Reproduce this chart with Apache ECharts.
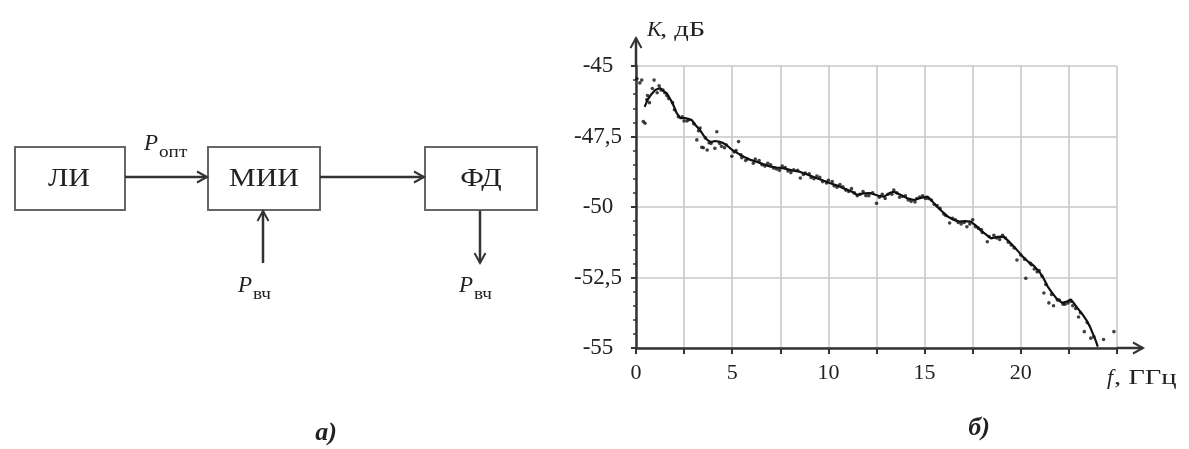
<!DOCTYPE html>
<html>
<head>
<meta charset="utf-8">
<title>Схема и АЧХ</title>
<style>
  html, body { margin: 0; padding: 0; background: #fff; }
  #main { width: 1189px; height: 449px; }
</style>
<script src="https://cdn.jsdelivr.net/npm/echarts@6/dist/echarts.min.js"></script>
</head>
<body>
<div id="main"></div>
<script>
// частота, ГГц и коэффициент передачи, дБ (сплошная линия)
var lineF = [0.45, 0.6, 0.8, 1.0, 1.25, 1.45, 1.6, 1.8, 1.95, 2.1, 2.3, 2.6, 2.9, 3.1, 3.3, 3.5, 3.7, 3.9, 4.1, 4.3,
  4.5, 4.7, 5.0, 5.3, 5.6, 5.95, 6.3, 6.6, 7.0, 7.3, 7.7, 8.1, 8.5, 8.9, 9.4, 9.8, 10.1, 10.5, 10.8, 11.2,
  11.5, 11.8, 12.2, 12.6, 12.9, 13.2, 13.4, 13.75, 14.1, 14.45, 14.8, 15.15, 15.4, 15.65, 15.9, 16.2, 16.5, 16.8, 17.1, 17.4,
  17.65, 17.9, 18.2, 18.45, 18.8, 19.1, 19.35, 19.65, 19.9, 20.1, 20.4, 20.7, 21.0, 21.2, 21.4, 21.6, 21.85, 22.15, 22.4, 22.6,
  22.8, 22.95, 23.2, 23.4, 23.6, 23.75, 23.9, 24.0];
var lineK = [-46.45, -46.2, -46.0, -45.85, -45.78, -45.9, -45.97, -46.2, -46.4, -46.65, -46.85, -46.85, -46.92, -47.1, -47.25, -47.45, -47.62, -47.7, -47.66, -47.68,
  -47.72, -47.8, -47.98, -48.1, -48.22, -48.33, -48.4, -48.48, -48.57, -48.6, -48.63, -48.7, -48.75, -48.85, -48.98, -49.08, -49.16, -49.25, -49.34, -49.45,
  -49.57, -49.52, -49.51, -49.6, -49.63, -49.5, -49.46, -49.57, -49.69, -49.75, -49.68, -49.63, -49.8, -49.99, -50.15, -50.34, -50.45, -50.52, -50.5, -50.52,
  -50.65, -50.82, -50.98, -51.11, -51.06, -51.05, -51.2, -51.41, -51.6, -51.76, -51.95, -52.1, -52.33, -52.55, -52.82, -53.02, -53.24, -53.4, -53.35, -53.28,
  -53.45, -53.59, -53.8, -54.0, -54.25, -54.5, -54.75, -54.95];

// точки измерений
var dotF = [0.05, 0.2, 0.3, 0.38, 0.47, 0.56, 0.7, 0.94, 1.1, 1.3, 1.5, 1.7, 1.9, 2.2, 2.5, 2.75, 3.0, 3.16, 3.33, 3.42,
  3.5, 3.7, 3.9, 4.1, 4.2, 4.45, 4.7, 4.98, 5.2, 5.33, 5.5, 5.8, 6.1, 6.4, 6.7, 7.0, 7.3, 7.6, 7.9, 8.2,
  8.54, 8.8, 9.1, 9.4, 9.7, 10.0, 10.3, 10.6, 10.9, 11.2, 11.5, 11.8, 12.1, 12.5, 12.8, 13.1, 13.4, 13.7, 14.0, 14.3,
  14.6, 14.9, 15.2, 15.5, 15.8, 16.0, 16.3, 16.6, 16.9, 17.2, 17.5, 17.8, 18.0, 18.26, 18.6, 18.9, 19.2, 19.5, 19.8, 20.0,
  20.26, 20.5, 20.7, 20.95, 21.2, 21.46, 21.7, 22.0, 22.3, 22.6, 22.85, 23.0, 23.3, 23.64, 24.3, 24.84,
  0.6, 0.85, 1.2, 1.4, 1.6, 2.0, 2.4, 2.65, 3.25, 3.6, 3.8, 4.35, 4.6, 5.1, 5.45, 5.7, 6.2, 6.55, 6.85, 7.15,
  7.45, 7.75, 8.05, 8.4, 8.7, 9.0, 9.25, 9.55, 9.9, 10.2, 10.45, 10.75, 11.05, 11.35, 11.65, 11.95, 12.3, 12.65, 12.95, 13.3,
  13.55, 13.85, 14.15, 14.5, 14.75, 15.05, 15.35, 15.65, 16.1, 16.45, 16.75, 17.05, 17.35, 17.65, 17.95, 18.35, 18.75, 19.05, 19.35, 19.65,
  20.2, 20.55, 20.85, 21.1, 21.3, 21.6, 21.9, 22.2, 22.45, 22.7, 23.1, 23.45, 23.8];
var dotK = [-45.45, -45.6, -45.5, -46.97, -47.03, -46.2, -46.3, -45.5, -45.95, -45.85, -45.95, -46.15, -46.3, -46.8, -46.95, -46.9, -47.05, -47.62, -47.2, -47.88,
  -47.9, -47.98, -47.75, -47.92, -47.33, -47.85, -47.8, -48.2, -48.0, -47.68, -48.25, -48.3, -48.45, -48.35, -48.55, -48.5, -48.65, -48.55, -48.72, -48.68,
  -48.97, -48.8, -48.95, -48.9, -49.1, -49.05, -49.25, -49.2, -49.4, -49.35, -49.6, -49.45, -49.6, -49.87, -49.55, -49.55, -49.4, -49.65, -49.6, -49.8,
  -49.7, -49.6, -49.7, -49.9, -50.05, -50.25, -50.57, -50.45, -50.6, -50.7, -50.45, -50.75, -50.9, -51.23, -51.0, -51.15, -51.1, -51.35, -51.88, -51.7,
  -52.53, -52.0, -52.2, -52.25, -53.05, -53.4, -53.5, -53.3, -53.45, -53.35, -53.6, -53.9, -54.42, -54.65, -54.7, -54.42,
  -46.05, -45.8, -45.7, -45.85, -46.05, -46.55, -46.8, -46.95, -47.3, -47.55, -47.72, -47.75, -47.9, -48.05, -48.15, -48.35, -48.3, -48.5, -48.45, -48.62,
  -48.7, -48.6, -48.78, -48.7, -48.85, -48.82, -49.0, -48.95, -49.15, -49.1, -49.3, -49.28, -49.45, -49.5, -49.55, -49.6, -49.5, -49.65, -49.7, -49.55,
  -49.5, -49.62, -49.75, -49.82, -49.65, -49.7, -49.75, -49.95, -50.3, -50.4, -50.55, -50.55, -50.6, -50.7, -50.8, -51.05, -51.1, -51.0, -51.25, -51.45,
  -51.85, -52.05, -52.3, -52.45, -52.75, -53.1, -53.3, -53.45, -53.4, -53.5, -53.75, -54.1, -54.6];

// деления осей
var xMin = 0, xMax = 25, xStep = 2.5;
var yMin = -55, yMax = -45, yStep = 2.5;

var lineData = lineF.map(function (f, i) { return [f, lineK[i]]; });
var dotData = dotF.map(function (f, i) { return [f, dotK[i]]; });

var serif = '"Liberation Serif", "Times New Roman", serif';
var ink = '#222';

var chart = echarts.init(document.getElementById('main'));

var option = {
  backgroundColor: '#fff',
  animation: false,
  grid: { left: 636, top: 66, width: 481, height: 282, containLabel: false },
  xAxis: {
    type: 'value', min: xMin, max: xMax, interval: xStep,
    axisLine: { lineStyle: { color: '#333', width: 2.5 } },
    axisTick: { length: 6, lineStyle: { color: '#333', width: 2 } },
    axisLabel: {
      margin: 14, color: ink, fontFamily: serif, fontSize: 22,
      formatter: function (v) { return (v % 5 === 0 && v < xMax) ? String(v) : ''; }
    },
    splitLine: { show: true, lineStyle: { color: '#c9c9c9', width: 1.6 } }
  },
  yAxis: {
    type: 'value', min: yMin, max: yMax, interval: yStep,
    axisLine: { show: true, lineStyle: { color: '#333', width: 2.5 } },
    axisTick: { show: true, length: 5, lineStyle: { color: '#333', width: 2 } },
    minorTick: { show: true, splitNumber: 5, length: 3, lineStyle: { color: '#333', width: 1.5 } },
    axisLabel: {
      margin: 38, align: 'center', color: ink, fontFamily: serif, fontSize: 23,
      formatter: function (v) { return String(v).replace('.', ','); }
    },
    splitLine: { show: true, lineStyle: { color: '#c9c9c9', width: 1.6 } }
  },
  series: [
    {
      type: 'line', data: lineData, showSymbol: false, smooth: false,
      lineStyle: { color: '#111', width: 2.2 }, z: 3
    },
    {
      type: 'scatter', data: dotData, symbolSize: 3.6,
      itemStyle: { color: '#111' }, z: 4
    }
  ]
};
chart.setOption(option);

// продолжение осей со стрелками
var o = chart.convertToPixel({ gridIndex: 0 }, [xMin, yMax]);
var e = chart.convertToPixel({ gridIndex: 0 }, [xMax, yMin]);
var yTop = o[1] - 28, xEnd = e[0] + 26;

function arrowLine(x1, y1, x2, y2, head, w) {
  var dx = x2 - x1, dy = y2 - y1, len = Math.sqrt(dx * dx + dy * dy);
  var ux = dx / len, uy = dy / len;
  var h = head || 10, s = h * 0.55;
  return [
    { type: 'line', shape: { x1: x1, y1: y1, x2: x2, y2: y2 }, style: { stroke: '#333', lineWidth: w || 2.5 } },
    { type: 'polyline', shape: { points: [[x2 - ux * h - uy * s, y2 - uy * h + ux * s], [x2, y2], [x2 - ux * h + uy * s, y2 - uy * h - ux * s]] },
      style: { stroke: '#333', fill: null, lineWidth: 2 } }
  ];
}

function txt(x, y, text, size, opts) {
  opts = opts || {};
  return {
    type: 'text', x: x, y: y, scaleX: opts.sx || 1,
    style: {
      text: text, fontFamily: serif, fontSize: size, fill: ink,
      fontStyle: opts.italic ? 'italic' : 'normal', fontWeight: opts.bold ? 'bold' : 'normal',
      align: opts.align || 'center', verticalAlign: 'middle'
    }
  };
}

function box(x, y, w, h) {
  return { type: 'rect', shape: { x: x, y: y, width: w, height: h }, style: { fill: '#fff', stroke: '#666', lineWidth: 2 } };
}

var g = [];
// блок-схема
g.push(box(15, 147, 110, 63), box(208, 147, 112, 63), box(425, 147, 112, 63));
g.push(txt(69, 179, 'ЛИ', 26, { sx: 1.15 }), txt(264, 179, 'МИИ', 26, { sx: 1.15 }), txt(481, 179, 'ФД', 26, { sx: 1.15 }));
g = g.concat(arrowLine(125, 177, 207, 177), arrowLine(320, 177, 424, 177),
  arrowLine(263, 263, 263, 211), arrowLine(480, 211, 480, 263));
g.push(txt(151, 144, 'P', 23, { italic: true }), txt(159, 153, 'опт', 16, { sx: 1.2, align: 'left' }));
g.push(txt(245, 286, 'P', 23, { italic: true }), txt(253, 295, 'вч', 16, { sx: 1.2, align: 'left' }));
g.push(txt(466, 286, 'P', 23, { italic: true }), txt(474, 295, 'вч', 16, { sx: 1.2, align: 'left' }));
g.push(txt(326, 433, 'а)', 26, { italic: true, bold: true }));
// оси графика
g = g.concat(arrowLine(o[0], o[1], o[0], yTop, 10, 2.5), arrowLine(e[0], e[1], xEnd, e[1], 10, 2.5));
g.push(txt(647, 30, 'K', 22, { italic: true, align: 'left' }), txt(660, 30, ', дБ', 22, { align: 'left', sx: 1.3 }));
g.push(txt(1107, 378, 'f', 22, { italic: true, align: 'left' }), txt(1114, 378, ', ГГц', 22, { align: 'left', sx: 1.3 }));
g.push(txt(979, 428, 'б)', 26, { italic: true, bold: true }));

chart.setOption({ graphic: g });
</script>
</body>
</html>
